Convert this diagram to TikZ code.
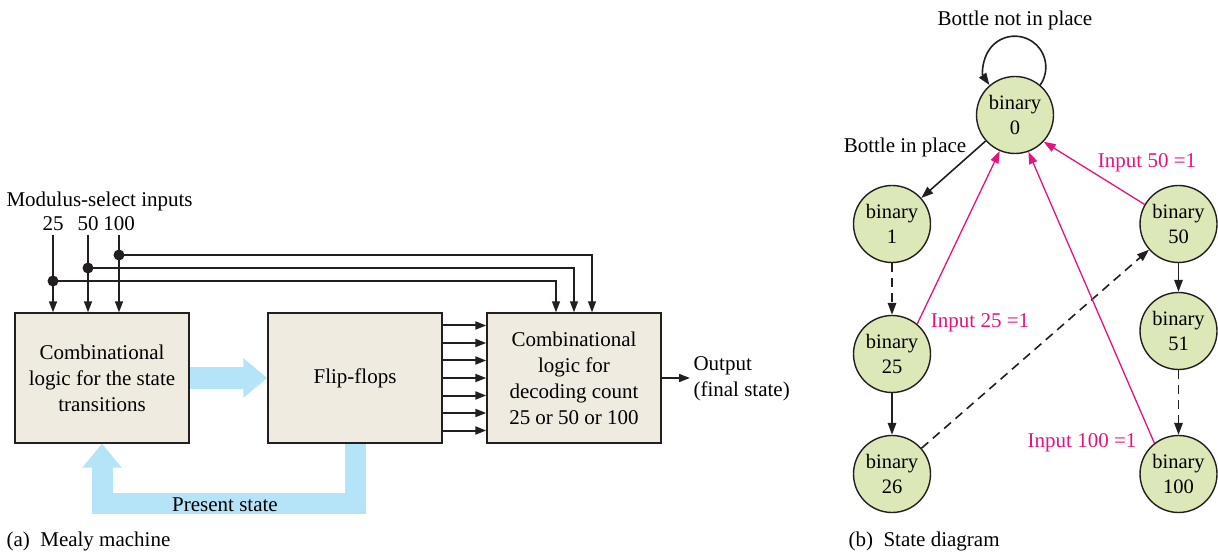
\documentclass[tikz,border=0pt]{standalone}
\usepackage{fontspec}
\setmainfont{Liberation Serif}
\usetikzlibrary{arrows.meta}
\definecolor{boxfill}{HTML}{EFEBE1}
\definecolor{stfill}{HTML}{DCE8B8}
\definecolor{bluec}{HTML}{B5E3F8}
\definecolor{pinkc}{HTML}{E5127F}
\definecolor{inkc}{HTML}{231F20}
\begin{document}
\begin{tikzpicture}[x=1pt,y=1pt,
  font=\rmfamily\fontsize{21}{26}\selectfont,
  blk/.style={draw=inkc, line width=1.4pt, fill=boxfill, minimum width=174pt, minimum height=130pt, align=center, inner sep=0pt},
  st/.style={circle, draw=inkc, line width=1.4pt, fill=stfill, minimum size=77pt, inner sep=0pt, align=center, font=\rmfamily\fontsize{20.5}{25}\selectfont},
  tip/.style={draw=inkc, line width=1.6pt, -{Triangle[length=11pt,width=8pt]}},
  fat/.style={line width=21pt, draw=bluec, -{Triangle[length=24pt,width=38pt]}},
  sar/.style={draw=inkc, line width=1.6pt, -{Triangle[length=12pt,width=8.5pt]}},
  pk/.style={draw=pinkc, line width=1.3pt, -{Triangle[length=12pt,width=8.5pt]}},
  dsh/.style={dash pattern=on 9pt off 6pt},
]
\useasboundingbox (0,0) rectangle (1218,552);

% ---------- (a) Mealy machine ----------
\node[blk] (b1) at (102,174) {Combinational\\logic for the state\\transitions};
\node[blk] (b2) at (355,174) {Flip-flops};
\node[blk] (b3) at (574,174) {Combinational\\logic for\\decoding count\\25 or 50 or 100};

\node[anchor=base west] (title) at (3,345) {Modulus-select inputs};
\node[anchor=base] (i25) at (53,321) {25};
\node[anchor=base] (i50) at (88,321) {50};
\node[anchor=base] (i100) at (119,321) {100};

\draw[tip] (i25.south) -- (i25.south |- b1.north);
\draw[tip] (i50.south) -- (i50.south |- b1.north);
\draw[tip] (i100.south) -- (i100.south |- b1.north);

\coordinate (d25) at (i25.south |- 0,271);
\coordinate (d50) at (i50.south |- 0,284);
\coordinate (d100) at (i100.south |- 0,297);
\draw[tip, line width=1.3pt] (d25) -| ([xshift=-18pt]b3.north);
\draw[tip, line width=1.3pt] (d50) -| (b3.north);
\draw[tip, line width=1.3pt] (d100) -| ([xshift=18pt]b3.north);
\fill[inkc] (d25) circle (5.5);
\fill[inkc] (d50) circle (5.5);
\fill[inkc] (d100) circle (5.5);

\foreach \k in {0,...,6}{
  \draw[tip, line width=2pt] ([yshift={52.5pt-17.5pt*\k}]b2.east) -- ([yshift={52.5pt-17.5pt*\k}]b3.west);
}

\draw[fat] (b1.east) -- (b2.west);
\draw[fat, line join=miter] (b2.south) -- ++(0,-59.5) -| (b1.south);
\node (ps) at (225,47) {Present state};

\node[anchor=west, align=left] (outl) at (690,173) {Output\\(final state)};
\draw[tip] (b3.east) -- (b3.east -| outl.west);

\node[anchor=base west] (capa) at (3,6) {(a)\enspace Mealy machine};

% ---------- (b) State diagram ----------
\node[st] (s0) at (1015,437) {binary\\0};
\node[st] (s1) at (892,328) {binary\\1};
\node[st] (s25) at (892,198) {binary\\25};
\node[st] (s26) at (892,78) {binary\\26};
\node[st] (s50) at (1178.5,328) {binary\\50};
\node[st] (s51) at (1178.5,221) {binary\\51};
\node[st] (s100) at (1178.5,78) {binary\\100};

\draw[sar] (s0.50) arc[start angle=-35, end angle=215, radius=31];
\draw[sar] (s0) -- (s1);
\draw[sar, dsh] (s1) -- (s25);
\draw[sar] (s25) -- (s26);
\draw[sar, dsh] (s26) -- (s50);
\draw[sar] (s50) -- (s51);
\draw[sar, dsh] (s51) -- (s100);

\draw[pk] (s25.50) -- (s0.247);
\draw[pk] (s100.128) -- (s0.290);
\draw[pk] (s50.150) -- (s0.317);

\node (lnot) at (1015,532) {Bottle not in place};
\node (lin) at (905,405) {Bottle in place};
\node[text=pinkc] (l50) at (1147,389) {Input 50 =1};
\node[text=pinkc] (l25) at (980,229) {Input 25 =1};
\node[text=pinkc] (l100) at (1082,109) {Input 100 =1};

\node[anchor=base west] (capb) at (845,6) {(b)\enspace State diagram};
\end{tikzpicture}
\end{document}
